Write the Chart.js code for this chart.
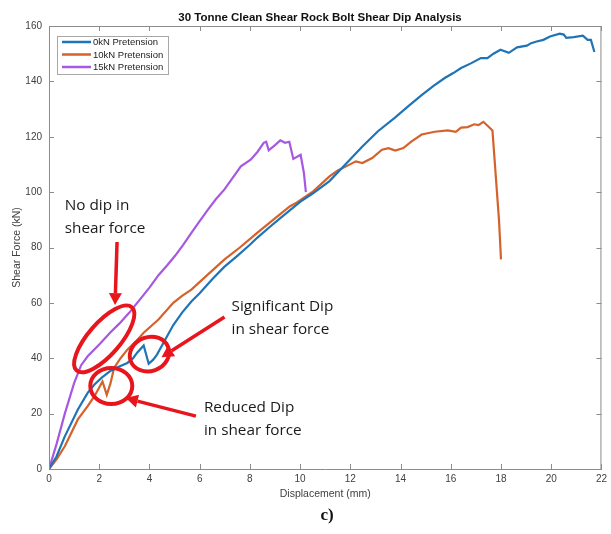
<!DOCTYPE html>
<html>
<head>
<meta charset="utf-8">
<script src="https://cdn.jsdelivr.net/npm/chart.js@4.4.0/dist/chart.umd.min.js"></script>
<style>
  html, body { margin: 0; padding: 0; background: #fff; }
  #wrap { width: 611px; height: 534px; }
</style>
</head>
<body>
<div id="wrap"><canvas id="chart"></canvas></div>
<script>
// 0kN pretension curve (displacement mm, shear force kN)
const disp0kN = [0, 0.3, 0.63, 1.15, 1.54, 1.81, 2.1, 2.46, 2.8, 3.12, 3.35, 3.51, 3.77, 3.97, 4.15, 4.3, 4.56, 4.95, 5.3, 5.67, 6.0, 6.5, 6.98, 7.5, 8.0, 8.29, 8.8, 9.2, 9.6, 10.0, 10.5, 11.17, 11.8, 12.48, 13.1, 13.79, 14.3, 14.84, 15.3, 15.76, 16.1, 16.41, 16.8, 17.2, 17.46, 17.7, 17.98, 18.31, 18.64, 19.03, 19.2, 19.42, 19.69, 19.95, 20.34, 20.5, 20.6, 20.9, 21.26, 21.45, 21.58, 21.72];
const force0kN = [0, 4.5, 11.8, 21.5, 27.5, 30.5, 33, 35.5, 37, 38.3, 40, 42, 44.6, 38, 39.5, 41.3, 45.6, 52, 56.5, 60.5, 63.5, 68.5, 73, 77, 81, 83.5, 87.5, 90.5, 93.5, 96.5, 99.5, 104, 110, 116.5, 122, 127, 131, 135, 138.3, 141.2, 143, 144.8, 146.5, 148.4, 148.4, 150, 151.4, 150.3, 152.3, 152.9, 153.8, 154.4, 155, 156.2, 157.2, 156.9, 155.7, 156, 156.5, 155, 155, 150.6];

// 10kN pretension curve
const disp10kN = [0, 0.3, 0.63, 1.15, 1.54, 1.81, 2.13, 2.3, 2.45, 2.59, 2.85, 3.12, 3.45, 3.77, 4.36, 4.95, 5.3, 5.67, 6.3, 6.98, 7.6, 8.29, 8.9, 9.6, 9.86, 10.52, 11.17, 11.5, 11.83, 12.22, 12.48, 12.87, 13.26, 13.52, 13.79, 14.11, 14.44, 14.84, 15.36, 15.88, 16.2, 16.41, 16.67, 16.93, 17.1, 17.3, 17.66, 17.92, 18.0];
const force10kN = [0, 3.5, 8.2, 17.9, 22.7, 26.3, 31.6, 26.8, 31, 36.5, 40, 43.1, 46, 49.2, 54, 60, 62.5, 64.8, 70, 75.6, 80, 85.3, 89.8, 94.9, 96.2, 100.3, 105.7, 107.8, 109.3, 111.1, 110.5, 112.3, 115.3, 115.9, 115, 115.9, 118.3, 120.8, 121.8, 122.3, 121.8, 123.3, 123.5, 124.5, 124.2, 125.4, 122.3, 90, 75.7];

// 15kN pretension curve
const disp15kN = [0, 0.3, 0.63, 1.0, 1.28, 1.54, 2.0, 2.46, 2.8, 3.2, 3.6, 4.0, 4.36, 4.7, 5.02, 5.35, 5.67, 6.0, 6.33, 6.65, 6.98, 7.3, 7.64, 8.03, 8.3, 8.55, 8.65, 8.75, 9.0, 9.21, 9.4, 9.57, 9.73, 10.02, 10.15, 10.23];
const force15kN = [0, 9, 20, 31, 37.5, 40.7, 45, 49.5, 52.5, 56.5, 61, 65.5, 70, 73.5, 77, 81, 85.3, 89.5, 93.7, 97.5, 100.9, 105, 109.3, 111.7, 114.5, 117.8, 118.2, 115.1, 117, 118.7, 117.8, 118.2, 112, 113.5, 107, 100];

const seriesLabels = ['0kN Pretension', '10kN Pretension', '15kN Pretension'];
const seriesColors = ['#1f74b8', '#d4622a', '#a659e0'];

const xTickValues = [0, 2, 4, 6, 8, 10, 12, 14, 16, 18, 20, 22];
const yTickValues = [0, 20, 40, 60, 80, 100, 120, 140, 160];

const toPoints = (xs, ys) => xs.map((x, i) => ({ x: x, y: ys[i] }));

// red callouts, placed in data units
const ellipses = [
  { x: 2.2, y: 47, rx: 42, ry: 16, rot: -49 },
  { x: 4.0, y: 41.5, rx: 20, ry: 17, rot: -20 },
  { x: 2.48, y: 30, rx: 21, ry: 18, rot: 0 }
];
const arrows = [
  { from: [2.71, 82], to: [2.63, 59.2] },
  { from: [6.99, 54.9], to: [4.48, 40.4] },
  { from: [5.85, 19.1], to: [3.06, 25.6] }
];
const notes = [
  { x: 0.63, y: 95.3, lines: ['No dip in', 'shear force'] },
  { x: 7.27, y: 58.5, lines: ['Significant Dip', 'in shear force'] },
  { x: 6.17, y: 22.0, lines: ['Reduced Dip', 'in shear force'] }
];

const calloutPlugin = {
  id: 'callouts',
  afterDatasetsDraw(chart) {
    const { ctx, scales: { x, y } } = chart;
    const red = '#e8161c';
    ctx.save();
    ctx.strokeStyle = red;
    ctx.fillStyle = red;

    ctx.lineWidth = 4;
    ellipses.forEach(e => {
      ctx.beginPath();
      ctx.ellipse(x.getPixelForValue(e.x), y.getPixelForValue(e.y), e.rx, e.ry, e.rot * Math.PI / 180, 0, Math.PI * 2);
      ctx.stroke();
    });

    ctx.lineWidth = 3.5;
    arrows.forEach(a => {
      const x0 = x.getPixelForValue(a.from[0]), y0 = y.getPixelForValue(a.from[1]);
      const x1 = x.getPixelForValue(a.to[0]), y1 = y.getPixelForValue(a.to[1]);
      const ang = Math.atan2(y1 - y0, x1 - x0);
      const len = 12, half = 6.5;
      const bx = x1 - Math.cos(ang) * len, by = y1 - Math.sin(ang) * len;
      ctx.beginPath();
      ctx.moveTo(x0, y0);
      ctx.lineTo(bx, by);
      ctx.stroke();
      ctx.beginPath();
      ctx.moveTo(x1, y1);
      ctx.lineTo(bx + Math.sin(ang) * half, by - Math.cos(ang) * half);
      ctx.lineTo(bx - Math.sin(ang) * half, by + Math.cos(ang) * half);
      ctx.closePath();
      ctx.fill();
    });

    ctx.fillStyle = '#1a1a1a';
    ctx.font = '15.3px "Open Sans"';
    ctx.textAlign = 'left';
    ctx.textBaseline = 'middle';
    notes.forEach(n => {
      const nx = x.getPixelForValue(n.x), ny = y.getPixelForValue(n.y);
      n.lines.forEach((t, i) => ctx.fillText(t, nx, ny + i * 23));
    });
    ctx.restore();
  }
};

// box, inward ticks, legend, title and caption
const framePlugin = {
  id: 'frame',
  afterDraw(chart) {
    const { ctx, chartArea: a, scales: { x, y } } = chart;
    ctx.save();
    ctx.strokeStyle = '#8c8c8c';
    ctx.lineWidth = 1;
    ctx.beginPath();
    ctx.moveTo(a.left, a.top + 0.5);
    ctx.lineTo(a.right - 0.5, a.top + 0.5);
    ctx.lineTo(a.right - 0.5, a.bottom);
    ctx.stroke();

    const tl = 5;
    ctx.beginPath();
    x.ticks.forEach(t => {
      const px = Math.round(x.getPixelForValue(t.value)) + 0.5;
      ctx.moveTo(px, a.bottom); ctx.lineTo(px, a.bottom - tl);
      ctx.moveTo(px, a.top); ctx.lineTo(px, a.top + tl);
    });
    y.ticks.forEach(t => {
      const py = Math.round(y.getPixelForValue(t.value)) + 0.5;
      ctx.moveTo(a.left, py); ctx.lineTo(a.left + tl, py);
      ctx.moveTo(a.right, py); ctx.lineTo(a.right - tl, py);
    });
    ctx.stroke();

    // legend
    const lx = 57, ly = 36, lw = 111, lh = 38;
    ctx.fillStyle = '#fff';
    ctx.fillRect(lx, ly, lw, lh);
    ctx.strokeStyle = '#a8a8a8';
    ctx.strokeRect(lx + 0.5, ly + 0.5, lw, lh);
    ctx.font = '9.5px "Liberation Sans"';
    ctx.textBaseline = 'middle';
    ctx.textAlign = 'left';
    chart.data.datasets.forEach((ds, i) => {
      const ry = ly + 6 + i * 12.5;
      ctx.strokeStyle = ds.borderColor;
      ctx.lineWidth = 2.5;
      ctx.beginPath();
      ctx.moveTo(lx + 5, ry);
      ctx.lineTo(lx + 34, ry);
      ctx.stroke();
      ctx.fillStyle = '#222';
      ctx.fillText(ds.label, lx + 36, ry + 0.5);
    });

    ctx.fillStyle = '#111';
    ctx.textAlign = 'center';
    ctx.font = 'bold 11.5px "Liberation Sans"';
    ctx.fillText('30 Tonne Clean Shear Rock Bolt Shear Dip Analysis', 320, 18);
    ctx.font = 'bold 17px "Liberation Serif"';
    ctx.fillText('c)', 327, 516);
    ctx.restore();
  }
};

new Chart(document.getElementById('chart'), {
  type: 'line',
  data: {
    datasets: [
      { label: seriesLabels[0], data: toPoints(disp0kN, force0kN), borderColor: seriesColors[0] },
      { label: seriesLabels[1], data: toPoints(disp10kN, force10kN), borderColor: seriesColors[1] },
      { label: seriesLabels[2], data: toPoints(disp15kN, force15kN), borderColor: seriesColors[2] }
    ]
  },
  options: {
    responsive: true,
    maintainAspectRatio: false,
    animation: false,
    layout: { padding: { top: 26, right: 2, bottom: 30, left: 0 } },
    elements: {
      line: { borderWidth: 2.2, tension: 0, fill: false },
      point: { radius: 0, hoverRadius: 0 }
    },
    plugins: {
      legend: { display: false },
      tooltip: { enabled: false },
      title: { display: false }
    },
    scales: {
      x: {
        type: 'linear',
        min: 0,
        max: 22,
        afterBuildTicks: s => { s.ticks = xTickValues.map(v => ({ value: v })); },
        afterFit: s => { s.height = 35; },
        grid: { display: false, drawTicks: false },
        border: { display: true, color: '#8c8c8c', width: 1 },
        ticks: { padding: 4, color: '#404040', font: { family: 'Liberation Sans', size: 10 } },
        title: {
          display: true,
          text: 'Displacement (mm)',
          color: '#404040',
          font: { family: 'Liberation Sans', size: 10.5 },
          padding: { top: 0, bottom: 4 }
        }
      },
      y: {
        type: 'linear',
        min: 0,
        max: 160,
        afterBuildTicks: s => { s.ticks = yTickValues.map(v => ({ value: v })); },
        afterFit: s => { s.width = 49; },
        grid: { display: false, drawTicks: false },
        border: { display: true, color: '#8c8c8c', width: 1 },
        ticks: { padding: 7, color: '#404040', font: { family: 'Liberation Sans', size: 10 } },
        title: {
          display: true,
          text: 'Shear Force (kN)',
          color: '#404040',
          font: { family: 'Liberation Sans', size: 10.5 },
          padding: { top: 11, bottom: 0 }
        }
      }
    }
  },
  plugins: [calloutPlugin, framePlugin]
});
</script>
</body>
</html>
